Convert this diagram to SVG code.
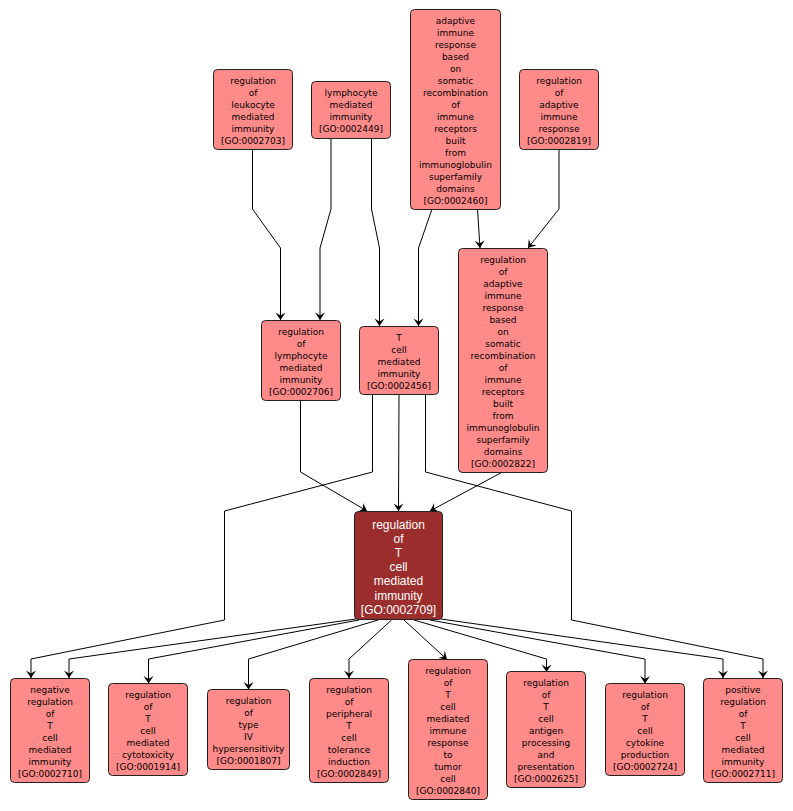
<svg xmlns="http://www.w3.org/2000/svg" width="793" height="811" viewBox="0 0 793 811">
<style>
.n rect{fill:#ff8a8a;stroke:#222;stroke-width:1}
.n text{font-family:"DejaVu Sans",sans-serif;font-size:9px;fill:#000;text-anchor:middle}
.c rect{fill:#9b2d2d;stroke:#222;stroke-width:1}
.c text{font-family:"Liberation Sans",Arial,sans-serif;font-size:12px;fill:#fff;text-anchor:middle}
#edges polyline{fill:none;stroke:#000;stroke-width:1;marker-end:url(#arr)}
</style>
<defs>
<marker id="arr" markerUnits="userSpaceOnUse" viewBox="-9 -6 10 12" markerWidth="10" markerHeight="12" refX="0" refY="0" orient="auto">
<path d="M0,0 L-7.5,-5 L-4.5,0 L-7.5,5 Z" fill="#000"/>
</marker>
</defs>
<rect width="793" height="811" fill="#fff"/>
<g id="edges">
<polyline points="252.5,149 252.5,209 280.5,248 280.5,320"/>
<polyline points="331,138 331,209 320,248 320,320"/>
<polyline points="371.5,138 371.5,209 379.5,248 379.5,326"/>
<polyline points="432,209 418.5,248 418.5,326"/>
<polyline points="477.5,209 480,248"/>
<polyline points="559,149 559,209 528,248"/>
<polyline points="300.5,400 300.5,472 367,511"/>
<polyline points="399,394 398.5,511"/>
<polyline points="502.5,472 430,511"/>
<polyline points="372.5,394 372.5,472 224.5,511 224.5,620 31,659 31,678"/>
<polyline points="425.5,394 425.5,472 571.5,511 571.5,620 763,659 763,678"/>
<polyline points="356,619 69,659 69,678"/>
<polyline points="359,620 148.5,659 148.5,683.5"/>
<polyline points="378,620 248.5,659 248.5,689.5"/>
<polyline points="391.5,620 349,659 349,678"/>
<polyline points="404,620 447,659.5"/>
<polyline points="414,620 546.5,659 546.5,672"/>
<polyline points="430,620 645,659 645,683.5"/>
<polyline points="441,619 723,659 723,678"/>
</g>
<g id="GO0002703" class="n"><rect x="213.5" y="69.5" width="79" height="80" rx="4"/>
<text x="253" y="84"><tspan x="253">regulation</tspan><tspan x="253" dy="12">of</tspan><tspan x="253" dy="12">leukocyte</tspan><tspan x="253" dy="12">mediated</tspan><tspan x="253" dy="12">immunity</tspan><tspan x="253" dy="12">[GO:0002703]</tspan></text></g>
<g id="GO0002449" class="n"><rect x="311.5" y="81.5" width="79" height="57" rx="4"/>
<text x="351" y="96"><tspan x="351">lymphocyte</tspan><tspan x="351" dy="12">mediated</tspan><tspan x="351" dy="12">immunity</tspan><tspan x="351" dy="12">[GO:0002449]</tspan></text></g>
<g id="GO0002460" class="n"><rect x="410.5" y="9.5" width="90" height="200" rx="4"/>
<text x="455.5" y="24"><tspan x="455.5">adaptive</tspan><tspan x="455.5" dy="12">immune</tspan><tspan x="455.5" dy="12">response</tspan><tspan x="455.5" dy="12">based</tspan><tspan x="455.5" dy="12">on</tspan><tspan x="455.5" dy="12">somatic</tspan><tspan x="455.5" dy="12">recombination</tspan><tspan x="455.5" dy="12">of</tspan><tspan x="455.5" dy="12">immune</tspan><tspan x="455.5" dy="12">receptors</tspan><tspan x="455.5" dy="12">built</tspan><tspan x="455.5" dy="12">from</tspan><tspan x="455.5" dy="12">immunoglobulin</tspan><tspan x="455.5" dy="12">superfamily</tspan><tspan x="455.5" dy="12">domains</tspan><tspan x="455.5" dy="12">[GO:0002460]</tspan></text></g>
<g id="GO0002819" class="n"><rect x="519.5" y="69.5" width="79" height="80" rx="4"/>
<text x="559" y="84"><tspan x="559">regulation</tspan><tspan x="559" dy="12">of</tspan><tspan x="559" dy="12">adaptive</tspan><tspan x="559" dy="12">immune</tspan><tspan x="559" dy="12">response</tspan><tspan x="559" dy="12">[GO:0002819]</tspan></text></g>
<g id="GO0002706" class="n"><rect x="261.5" y="320.5" width="79" height="80" rx="4"/>
<text x="301" y="335"><tspan x="301">regulation</tspan><tspan x="301" dy="12">of</tspan><tspan x="301" dy="12">lymphocyte</tspan><tspan x="301" dy="12">mediated</tspan><tspan x="301" dy="12">immunity</tspan><tspan x="301" dy="12">[GO:0002706]</tspan></text></g>
<g id="GO0002456" class="n"><rect x="359.5" y="326.5" width="79" height="68" rx="4"/>
<text x="399" y="341"><tspan x="399">T</tspan><tspan x="399" dy="12">cell</tspan><tspan x="399" dy="12">mediated</tspan><tspan x="399" dy="12">immunity</tspan><tspan x="399" dy="12">[GO:0002456]</tspan></text></g>
<g id="GO0002822" class="n"><rect x="458.5" y="248.5" width="89" height="224" rx="4"/>
<text x="503" y="263"><tspan x="503">regulation</tspan><tspan x="503" dy="12">of</tspan><tspan x="503" dy="12">adaptive</tspan><tspan x="503" dy="12">immune</tspan><tspan x="503" dy="12">response</tspan><tspan x="503" dy="12">based</tspan><tspan x="503" dy="12">on</tspan><tspan x="503" dy="12">somatic</tspan><tspan x="503" dy="12">recombination</tspan><tspan x="503" dy="12">of</tspan><tspan x="503" dy="12">immune</tspan><tspan x="503" dy="12">receptors</tspan><tspan x="503" dy="12">built</tspan><tspan x="503" dy="12">from</tspan><tspan x="503" dy="12">immunoglobulin</tspan><tspan x="503" dy="12">superfamily</tspan><tspan x="503" dy="12">domains</tspan><tspan x="503" dy="12">[GO:0002822]</tspan></text></g>
<g id="GO0002709" class="c"><rect x="354.5" y="511.5" width="88" height="108" rx="4"/>
<text x="398.5" y="528.5"><tspan x="398.5">regulation</tspan><tspan x="398.5" dy="14.2">of</tspan><tspan x="398.5" dy="14.2">T</tspan><tspan x="398.5" dy="14.2">cell</tspan><tspan x="398.5" dy="14.2">mediated</tspan><tspan x="398.5" dy="14.2">immunity</tspan><tspan x="398.5" dy="14.2">[GO:0002709]</tspan></text></g>
<g id="GO0002710" class="n"><rect x="10.5" y="678.5" width="79" height="104" rx="4"/>
<text x="50" y="693"><tspan x="50">negative</tspan><tspan x="50" dy="12">regulation</tspan><tspan x="50" dy="12">of</tspan><tspan x="50" dy="12">T</tspan><tspan x="50" dy="12">cell</tspan><tspan x="50" dy="12">mediated</tspan><tspan x="50" dy="12">immunity</tspan><tspan x="50" dy="12">[GO:0002710]</tspan></text></g>
<g id="GO0001914" class="n"><rect x="108.5" y="683.5" width="79" height="92" rx="4"/>
<text x="148" y="698"><tspan x="148">regulation</tspan><tspan x="148" dy="12">of</tspan><tspan x="148" dy="12">T</tspan><tspan x="148" dy="12">cell</tspan><tspan x="148" dy="12">mediated</tspan><tspan x="148" dy="12">cytotoxicity</tspan><tspan x="148" dy="12">[GO:0001914]</tspan></text></g>
<g id="GO0001807" class="n"><rect x="207.5" y="689.5" width="82" height="80" rx="4"/>
<text x="248.5" y="704"><tspan x="248.5">regulation</tspan><tspan x="248.5" dy="12">of</tspan><tspan x="248.5" dy="12">type</tspan><tspan x="248.5" dy="12">IV</tspan><tspan x="248.5" dy="12">hypersensitivity</tspan><tspan x="248.5" dy="12">[GO:0001807]</tspan></text></g>
<g id="GO0002849" class="n"><rect x="309.5" y="678.5" width="79" height="104" rx="4"/>
<text x="349" y="693"><tspan x="349">regulation</tspan><tspan x="349" dy="12">of</tspan><tspan x="349" dy="12">peripheral</tspan><tspan x="349" dy="12">T</tspan><tspan x="349" dy="12">cell</tspan><tspan x="349" dy="12">tolerance</tspan><tspan x="349" dy="12">induction</tspan><tspan x="349" dy="12">[GO:0002849]</tspan></text></g>
<g id="GO0002840" class="n"><rect x="408.5" y="659.5" width="79" height="140" rx="4"/>
<text x="448" y="674"><tspan x="448">regulation</tspan><tspan x="448" dy="12">of</tspan><tspan x="448" dy="12">T</tspan><tspan x="448" dy="12">cell</tspan><tspan x="448" dy="12">mediated</tspan><tspan x="448" dy="12">immune</tspan><tspan x="448" dy="12">response</tspan><tspan x="448" dy="12">to</tspan><tspan x="448" dy="12">tumor</tspan><tspan x="448" dy="12">cell</tspan><tspan x="448" dy="12">[GO:0002840]</tspan></text></g>
<g id="GO0002625" class="n"><rect x="506.5" y="671.5" width="79" height="116" rx="4"/>
<text x="546" y="686"><tspan x="546">regulation</tspan><tspan x="546" dy="12">of</tspan><tspan x="546" dy="12">T</tspan><tspan x="546" dy="12">cell</tspan><tspan x="546" dy="12">antigen</tspan><tspan x="546" dy="12">processing</tspan><tspan x="546" dy="12">and</tspan><tspan x="546" dy="12">presentation</tspan><tspan x="546" dy="12">[GO:0002625]</tspan></text></g>
<g id="GO0002724" class="n"><rect x="605.5" y="683.5" width="79" height="92" rx="4"/>
<text x="645" y="698"><tspan x="645">regulation</tspan><tspan x="645" dy="12">of</tspan><tspan x="645" dy="12">T</tspan><tspan x="645" dy="12">cell</tspan><tspan x="645" dy="12">cytokine</tspan><tspan x="645" dy="12">production</tspan><tspan x="645" dy="12">[GO:0002724]</tspan></text></g>
<g id="GO0002711" class="n"><rect x="703.5" y="678.5" width="79" height="104" rx="4"/>
<text x="743" y="693"><tspan x="743">positive</tspan><tspan x="743" dy="12">regulation</tspan><tspan x="743" dy="12">of</tspan><tspan x="743" dy="12">T</tspan><tspan x="743" dy="12">cell</tspan><tspan x="743" dy="12">mediated</tspan><tspan x="743" dy="12">immunity</tspan><tspan x="743" dy="12">[GO:0002711]</tspan></text></g>
</svg>
